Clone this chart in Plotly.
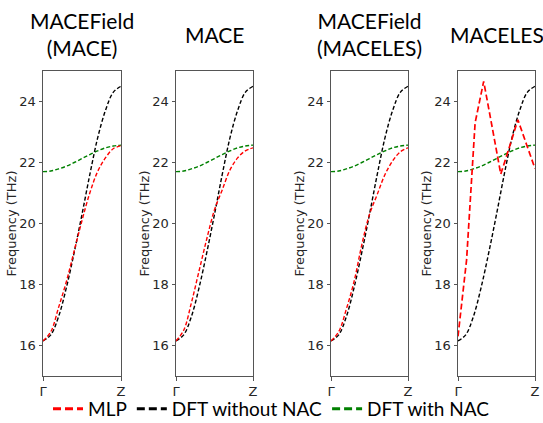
import plotly.graph_objects as go

# ---------------- data ----------------
panel_titles = ["MACEField<br>(MACE)", "MACE", "MACEField<br>(MACELES)", "MACELES"]
kpath = [0.0, 0.1, 0.2, 0.3, 0.4, 0.5, 0.6, 0.7, 0.8, 0.9, 1.0]
dft_no_nac = [16.15, 16.35, 16.95, 17.9, 19.05, 20.3, 21.6, 22.8, 23.7, 24.3, 24.5]
dft_nac = [21.70, 21.72, 21.79, 21.88, 22.0, 22.13, 22.26, 22.38, 22.48, 22.54, 22.57]
mlp_macefield_mace = [16.15, 16.45, 17.25, 18.1, 19.1, 20.1, 21.0, 21.7, 22.15, 22.45, 22.55]
mlp_mace = [16.15, 16.5, 17.4, 18.45, 19.5, 20.45, 21.1, 21.75, 22.15, 22.38, 22.48]
mlp_macefield_maceles = [16.15, 16.45, 17.2, 18.1, 19.3, 20.3, 20.95, 21.6, 22.05, 22.35, 22.48]
kpath_les = [0.0, 1/9, 2/9, 3/9, 4/9, 5/9, 6/9, 7/9, 8/9, 1.0]
mlp_maceles = [16.3, 18.8, 23.3, 24.66, 23.15, 21.62, 22.5, 23.4, 22.6, 21.8]
tick_vals = [0, 1]
tick_text = ["Γ", "Z"]
y_ticks = [16, 18, 20, 22, 24]
legend_names = ["MLP", "DFT without NAC", "DFT with NAC"]

# ---------------- layout ----------------
W, H = 543, 423
px_domains = [(43, 121), (176, 253), (331, 408), (458, 535)]
y_dom = [1 - 376 / H, 1 - 71 / H]

RED, BLACK, GREEN = "#ff0000", "#000000", "#008000"
mlp_sets = [(kpath, mlp_macefield_mace), (kpath, mlp_mace),
            (kpath, mlp_macefield_maceles), (kpath_les, mlp_maceles)]

fig = go.Figure()
tickfont = dict(family="DejaVu Sans", size=13, color="#262626")
axis_line = dict(showline=True, linecolor="#555555", linewidth=1, mirror=True,
                 ticks="outside", ticklen=3.5, tickcolor="#555555", tickwidth=1,
                 showgrid=False, zeroline=False, tickfont=tickfont, automargin=False)

for i in range(4):
    n = "" if i == 0 else str(i + 1)
    xa, ya = "x" + n, "y" + n
    thin = dict(width=1.4, dash="4px,2.2px")
    fig.add_trace(go.Scatter(x=kpath, y=dft_nac, mode="lines", xaxis=xa, yaxis=ya,
                             line=dict(color=GREEN, shape="spline", **thin), showlegend=False))
    fig.add_trace(go.Scatter(x=kpath, y=dft_no_nac, mode="lines", xaxis=xa, yaxis=ya,
                             line=dict(color=BLACK, shape="spline", **thin), showlegend=False))
    kx, ky = mlp_sets[i]
    if i < 3:
        fig.add_trace(go.Scatter(x=kx, y=ky, mode="lines", xaxis=xa, yaxis=ya,
                                 line=dict(color=RED, shape="spline", **thin), showlegend=False))
    else:
        fig.add_trace(go.Scatter(x=kx, y=ky, mode="lines", xaxis=xa, yaxis=ya,
                                 line=dict(color=RED, width=1.7, dash="6px,3px"), showlegend=False))
    l, r = px_domains[i]
    fig.layout["xaxis" + n] = dict(domain=[l / W, r / W], range=[0, 1], anchor=ya,
                                   tickvals=tick_vals, ticktext=tick_text, **axis_line)
    fig.layout["yaxis" + n] = dict(domain=y_dom, range=[15, 25], anchor=xa,
                                   tickvals=y_ticks, **axis_line)
    fig.add_annotation(text=panel_titles[i], xref=xa + " domain", yref="paper",
                       x=0.5, y=1 - 34 / H, xanchor="center", yanchor="middle",
                       showarrow=False, font=dict(family="Lato", size=21, color="#000000"))
    fig.add_annotation(text="Frequency (THz)", xref=xa + " domain", yref=ya + " domain",
                       x=0, y=0.5, xshift=-32, xanchor="center", yanchor="middle",
                       textangle=-90, showarrow=False,
                       font=dict(family="DejaVu Sans", size=13, color="#262626"))

# legend-only entries
for name, col in zip(legend_names, [RED, BLACK, GREEN]):
    fig.add_trace(go.Scatter(x=[None], y=[None], mode="lines", name=name,
                             line=dict(color=col, width=3, dash="8px,4px")))

fig.update_layout(
    width=W, height=H, margin=dict(l=0, r=0, t=0, b=0, autoexpand=False),
    plot_bgcolor="white", paper_bgcolor="white",
    legend=dict(orientation="h", x=0.5, xanchor="center", y=1 - 409 / H, yanchor="middle",
                font=dict(family="Lato", size=19, color="#000000"),
                itemwidth=30, tracegroupgap=0, bgcolor="rgba(0,0,0,0)"),
)

fig.write_html("out.html")
